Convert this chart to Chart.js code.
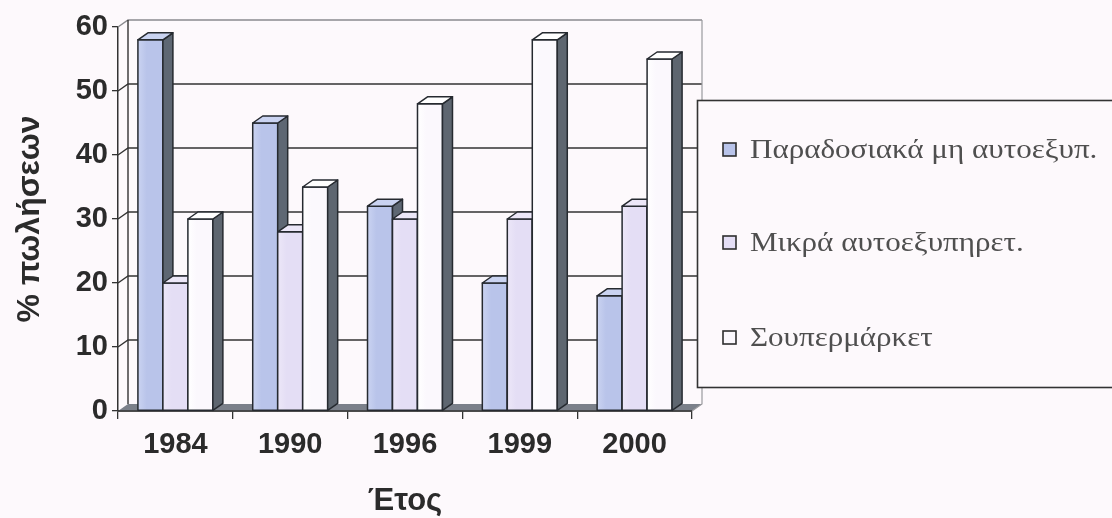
<!DOCTYPE html>
<html>
<head>
<meta charset="utf-8">
<script src="https://cdn.jsdelivr.net/npm/chart.js@4.4.0/dist/chart.umd.min.js"></script>
<style>
  html, body { margin: 0; padding: 0; background: #fdf9fc; }
  canvas { display: block; }
</style>
</head>
<body>
<canvas id="c" width="1112" height="518"></canvas>
<script>
// Share of sales (%) by store type and year
const years = ['1984', '1990', '1996', '1999', '2000'];
const traditional = [58, 45, 32, 20, 18];
const smallSelfService = [20, 28, 30, 30, 32];
const supermarket = [30, 35, 48, 58, 55];
const seriesNames = ['Παραδοσιακά μη αυτοεξυπ.', 'Μικρά αυτοεξυπηρετ.', 'Σουπερμάρκετ'];
const yTickValues = [0, 10, 20, 30, 40, 50, 60];
const xTitle = 'Έτος';
const yTitle = '% πωλήσεων';

const BG = '#fdf9fc';
const INK = '#2b2b2b';
const DEPTH_X = 10, DEPTH_Y = -7;

const faces = [
  { front: '#b9c4ea', top: '#cad3f1', side: '#5e6773' },
  { front: '#e4def5', top: '#ece7f8', side: '#656b77' },
  { front: '#fbf8fd', top: '#ffffff', side: '#5e6670' }
];

// Back wall, side wall, floor and gridlines behind the columns
const wallsPlugin = {
  id: 'walls',
  beforeDatasetsDraw(chart) {
    const { ctx, chartArea, scales: { y } } = chart;
    const left = chartArea.left, right = chartArea.right;
    const base = y.getPixelForValue(0);
    const top = y.getPixelForValue(60);
    ctx.save();
    // floor
    ctx.fillStyle = '#7b808a';
    ctx.beginPath();
    ctx.moveTo(left, base);
    ctx.lineTo(left + DEPTH_X, base + DEPTH_Y);
    ctx.lineTo(right + DEPTH_X, base + DEPTH_Y);
    ctx.lineTo(right, base);
    ctx.closePath();
    ctx.fill();
    // gridlines across side wall and back wall
    yTickValues.forEach(v => {
      if (v === 0) return;
      const py = y.getPixelForValue(v);
      ctx.strokeStyle = v === 60 ? '#8a8a8e' : '#333';
      ctx.lineWidth = v === 60 ? 1.5 : 1.4;
      ctx.beginPath();
      ctx.moveTo(left, py);
      ctx.lineTo(left + DEPTH_X, py + DEPTH_Y);
      ctx.lineTo(right + DEPTH_X, py + DEPTH_Y);
      ctx.stroke();
    });
    // wall edges
    ctx.strokeStyle = '#333';
    ctx.lineWidth = 1.4;
    ctx.beginPath();
    ctx.moveTo(left + DEPTH_X, top + DEPTH_Y);
    ctx.lineTo(left + DEPTH_X, base + DEPTH_Y);
    ctx.stroke();
    ctx.strokeStyle = '#9a9a9e';
    ctx.lineWidth = 1.2;
    ctx.beginPath();
    ctx.moveTo(right + DEPTH_X, top + DEPTH_Y);
    ctx.lineTo(right + DEPTH_X, base + DEPTH_Y);
    ctx.lineTo(right, base);
    ctx.stroke();
    // front baseline
    ctx.strokeStyle = '#333';
    ctx.lineWidth = 1.5;
    ctx.beginPath();
    ctx.moveTo(left, base);
    ctx.lineTo(right, base);
    ctx.stroke();
    ctx.restore();
  },
  // Columns drawn as boxes: front face, side face and top face
  afterDatasetsDraw(chart) {
    const { ctx } = chart;
    ctx.save();
    ctx.lineJoin = 'round';
    ctx.strokeStyle = '#262a30';
    ctx.lineWidth = 1.5;
    chart.data.datasets.forEach((ds, i) => {
      const meta = chart.getDatasetMeta(i);
      const f = faces[i];
      meta.data.forEach(bar => {
        const { x, y, base, width } = bar.getProps(['x', 'y', 'base', 'width'], true);
        const l = x - width / 2, r = x + width / 2;
        // front face with a soft highlight on the left
        const g = ctx.createLinearGradient(l, 0, r, 0);
        g.addColorStop(0, f.top);
        g.addColorStop(0.35, f.front);
        g.addColorStop(1, f.front);
        ctx.fillStyle = g;
        ctx.fillRect(l, y, width, base - y);
        ctx.strokeRect(l, y, width, base - y);
        // side face
        ctx.fillStyle = f.side;
        ctx.beginPath();
        ctx.moveTo(r, y);
        ctx.lineTo(r + DEPTH_X, y + DEPTH_Y);
        ctx.lineTo(r + DEPTH_X, base + DEPTH_Y);
        ctx.lineTo(r, base);
        ctx.closePath();
        ctx.fill();
        ctx.stroke();
        // top face
        ctx.fillStyle = f.top;
        ctx.beginPath();
        ctx.moveTo(l, y);
        ctx.lineTo(l + DEPTH_X, y + DEPTH_Y);
        ctx.lineTo(r + DEPTH_X, y + DEPTH_Y);
        ctx.lineTo(r, y);
        ctx.closePath();
        ctx.fill();
        ctx.stroke();
      });
    });
    ctx.restore();
  },
  // Framed legend on the right
  afterDraw(chart) {
    const { ctx } = chart;
    ctx.save();
    ctx.fillStyle = BG;
    ctx.fillRect(697, 100, 420, 287);
    ctx.strokeStyle = '#333';
    ctx.lineWidth = 1.6;
    ctx.strokeRect(697.5, 100.5, 430, 287);
    const rows = [150, 243, 338];
    ctx.font = '27px "Liberation Serif"';
    ctx.textBaseline = 'middle';
    ctx.textAlign = 'left';
    seriesNames.forEach((name, i) => {
      const cy = rows[i];
      ctx.fillStyle = faces[i].front;
      ctx.fillRect(723, cy - 7, 13, 13);
      ctx.lineWidth = 1.6;
      ctx.strokeStyle = '#2e2e2e';
      ctx.strokeRect(723, cy - 7, 13, 13);
      ctx.fillStyle = '#4f4f4f';
      ctx.save();
      ctx.translate(750, cy + 1);
      ctx.scale(1.15, 1);
      ctx.fillText(name, 0, 0);
      ctx.restore();
    });
    ctx.restore();
  }
};

const fontFamily = '"Liberation Sans", Arial, sans-serif';
const tickFont = { family: fontFamily, weight: 'bold', size: 29 };

new Chart(document.getElementById('c'), {
  type: 'bar',
  data: {
    labels: years,
    datasets: [
      { label: seriesNames[0], data: traditional },
      { label: seriesNames[1], data: smallSelfService },
      { label: seriesNames[2], data: supermarket }
    ].map(d => Object.assign(d, {
      backgroundColor: 'rgba(0,0,0,0)',
      borderWidth: 0,
      categoryPercentage: 0.653,
      barPercentage: 1.0
    }))
  },
  options: {
    responsive: false,
    animation: false,
    events: [],
    layout: { padding: { left: 0, right: 420, top: 27, bottom: 0 } },
    plugins: { legend: { display: false }, tooltip: { enabled: false } },
    scales: {
      x: {
        grid: { display: true, drawOnChartArea: false, offset: true, tickLength: 8, color: '#333', lineWidth: 1.3 },
        border: { display: true, color: '#333', width: 1.5 },
        ticks: { font: tickFont, color: INK, padding: 9, maxRotation: 0 },
        title: { display: true, text: xTitle, font: { family: fontFamily, weight: 'bold', size: 31 }, color: INK, padding: { top: 0, bottom: -2 } },
        afterFit(scale) { scale.height = 107; }
      },
      y: {
        min: 0, max: 60,
        afterBuildTicks(scale) { scale.ticks = yTickValues.map(v => ({ value: v })); },
        grid: { display: true, drawOnChartArea: false, tickLength: 6, color: '#333', lineWidth: 1.3 },
        border: { display: true, color: '#333', width: 1.5 },
        ticks: { font: tickFont, color: INK, padding: 4 },
        title: { display: true, text: yTitle, font: { family: fontFamily, weight: 'bold', size: 32 }, color: INK, padding: { top: 11, bottom: 0 } },
        afterFit(scale) { scale.width = 118; }
      }
    }
  },
  plugins: [wallsPlugin]
});
</script>
</body>
</html>
